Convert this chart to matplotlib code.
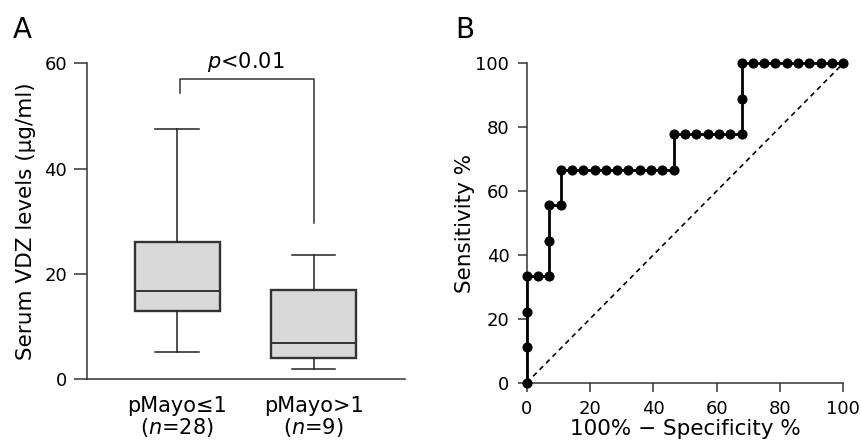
import matplotlib
matplotlib.use("Agg")
import matplotlib.pyplot as plt

plt.rcParams["font.family"] = ["DejaVu Sans"]
plt.rcParams["mathtext.fontset"] = "dejavusans"

# panel A: box plot summaries
groups = ["pMayo≤1\n($n$=28)", "pMayo>1\n($n$=9)"]
q1 = [12.9, 4.1]
medians = [16.7, 6.8]
q3 = [26.1, 16.9]
whisker_low = [5.2, 1.9]
whisker_high = [47.5, 23.6]
bracket_top = 57.0
bracket_ends = [54.3, 29.6]
p_text = "$p$<0.01"

# panel B: ROC curve points
fpr = [0, 0, 0, 0, 3.57, 7.14, 7.14, 7.14, 10.71, 10.71,
       14.29, 17.86, 21.43, 25.0, 28.57, 32.14, 35.71, 39.29, 42.86, 46.43,
       46.43, 50.0, 53.57, 57.14, 60.71, 64.29, 67.86,
       67.86, 67.86, 71.43, 75.0, 78.57, 82.14, 85.71, 89.29, 92.86, 96.43, 100]
tpr = [0, 11.11, 22.22, 33.33, 33.33, 33.33, 44.44, 55.56, 55.56, 66.67,
       66.67, 66.67, 66.67, 66.67, 66.67, 66.67, 66.67, 66.67, 66.67, 66.67,
       77.78, 77.78, 77.78, 77.78, 77.78, 77.78, 77.78,
       88.89, 100, 100, 100, 100, 100, 100, 100, 100, 100, 100]

W, H = 861, 442
fig = plt.figure(figsize=(W / 100, H / 100), dpi=100)
TICK_FS = 13
LABEL_FS = 15.5
spine_col = "#333333"

# ---- panel A
axA = fig.add_axes([87.3 / W, 1 - 379.3 / H, 317.7 / W, 316.0 / H])
stats = []
for i in range(len(groups)):
    stats.append(dict(med=medians[i], q1=q1[i], q3=q3[i],
                      whislo=whisker_low[i], whishi=whisker_high[i], fliers=[]))
axA.bxp(stats, positions=[1, 2], widths=0.625, showfliers=False, patch_artist=True,
        boxprops=dict(facecolor="#d9d9d9", edgecolor="#333333", linewidth=1.7),
        medianprops=dict(color="#333333", linewidth=1.4),
        whiskerprops=dict(color="#222222", linewidth=1.1),
        capprops=dict(color="#222222", linewidth=1.1),
        capwidths=0.32)
axA.plot([1.02, 1.02, 2.0, 2.0], [bracket_ends[0], bracket_top, bracket_top, bracket_ends[1]],
         color="#333333", linewidth=1.1, clip_on=False)
axA.text(1.5, bracket_top + 0.9, p_text, ha="center", va="bottom", fontsize=15)
axA.set_xlim(0.34, 2.67)
axA.set_ylim(0, 60)
axA.set_yticks([0, 20, 40, 60])
axA.set_xticks([1, 2])
axA.set_xticklabels(groups, fontsize=15, linespacing=1.0)
axA.tick_params(axis="x", length=0, pad=12)
axA.tick_params(axis="y", length=9.5, width=1.1, color=spine_col, labelsize=TICK_FS, pad=5)
axA.set_ylabel("Serum VDZ levels (μg/ml)", fontsize=LABEL_FS, labelpad=6)
for s in ["top", "right"]:
    axA.spines[s].set_visible(False)
for s in ["left", "bottom"]:
    axA.spines[s].set_color(spine_col)
    axA.spines[s].set_linewidth(1.1)

# ---- panel B
axB = fig.add_axes([526.7 / W, 1 - 382.7 / H, 316.6 / W, 319.4 / H])
axB.plot([0, 100], [0, 100], color="black", linestyle=(0, (3, 2.5)), linewidth=1.2)
axB.plot(fpr, tpr, color="black", linewidth=2.0, marker="o", markersize=6.3, clip_on=False,
         zorder=3)
axB.set_xlim(0, 100)
axB.set_ylim(0, 100)
axB.set_xticks(range(0, 101, 20))
axB.set_yticks(range(0, 101, 20))
axB.tick_params(length=6.5, width=1.1, color=spine_col, labelsize=TICK_FS, pad=6)
axB.set_ylabel("Sensitivity %", fontsize=LABEL_FS, labelpad=0)
axB.set_xlabel("100% − Specificity %", fontsize=LABEL_FS, labelpad=1)
for s in ["top", "right"]:
    axB.spines[s].set_visible(False)
for s in ["left", "bottom"]:
    axB.spines[s].set_color(spine_col)
    axB.spines[s].set_linewidth(1.1)

fig.text(13 / W, 1 - 38 / H, "A", fontsize=20, ha="left", va="baseline")
fig.text(455 / W, 1 - 38 / H, "B", fontsize=20, ha="left", va="baseline")

fig.savefig("out.png", dpi=100)
